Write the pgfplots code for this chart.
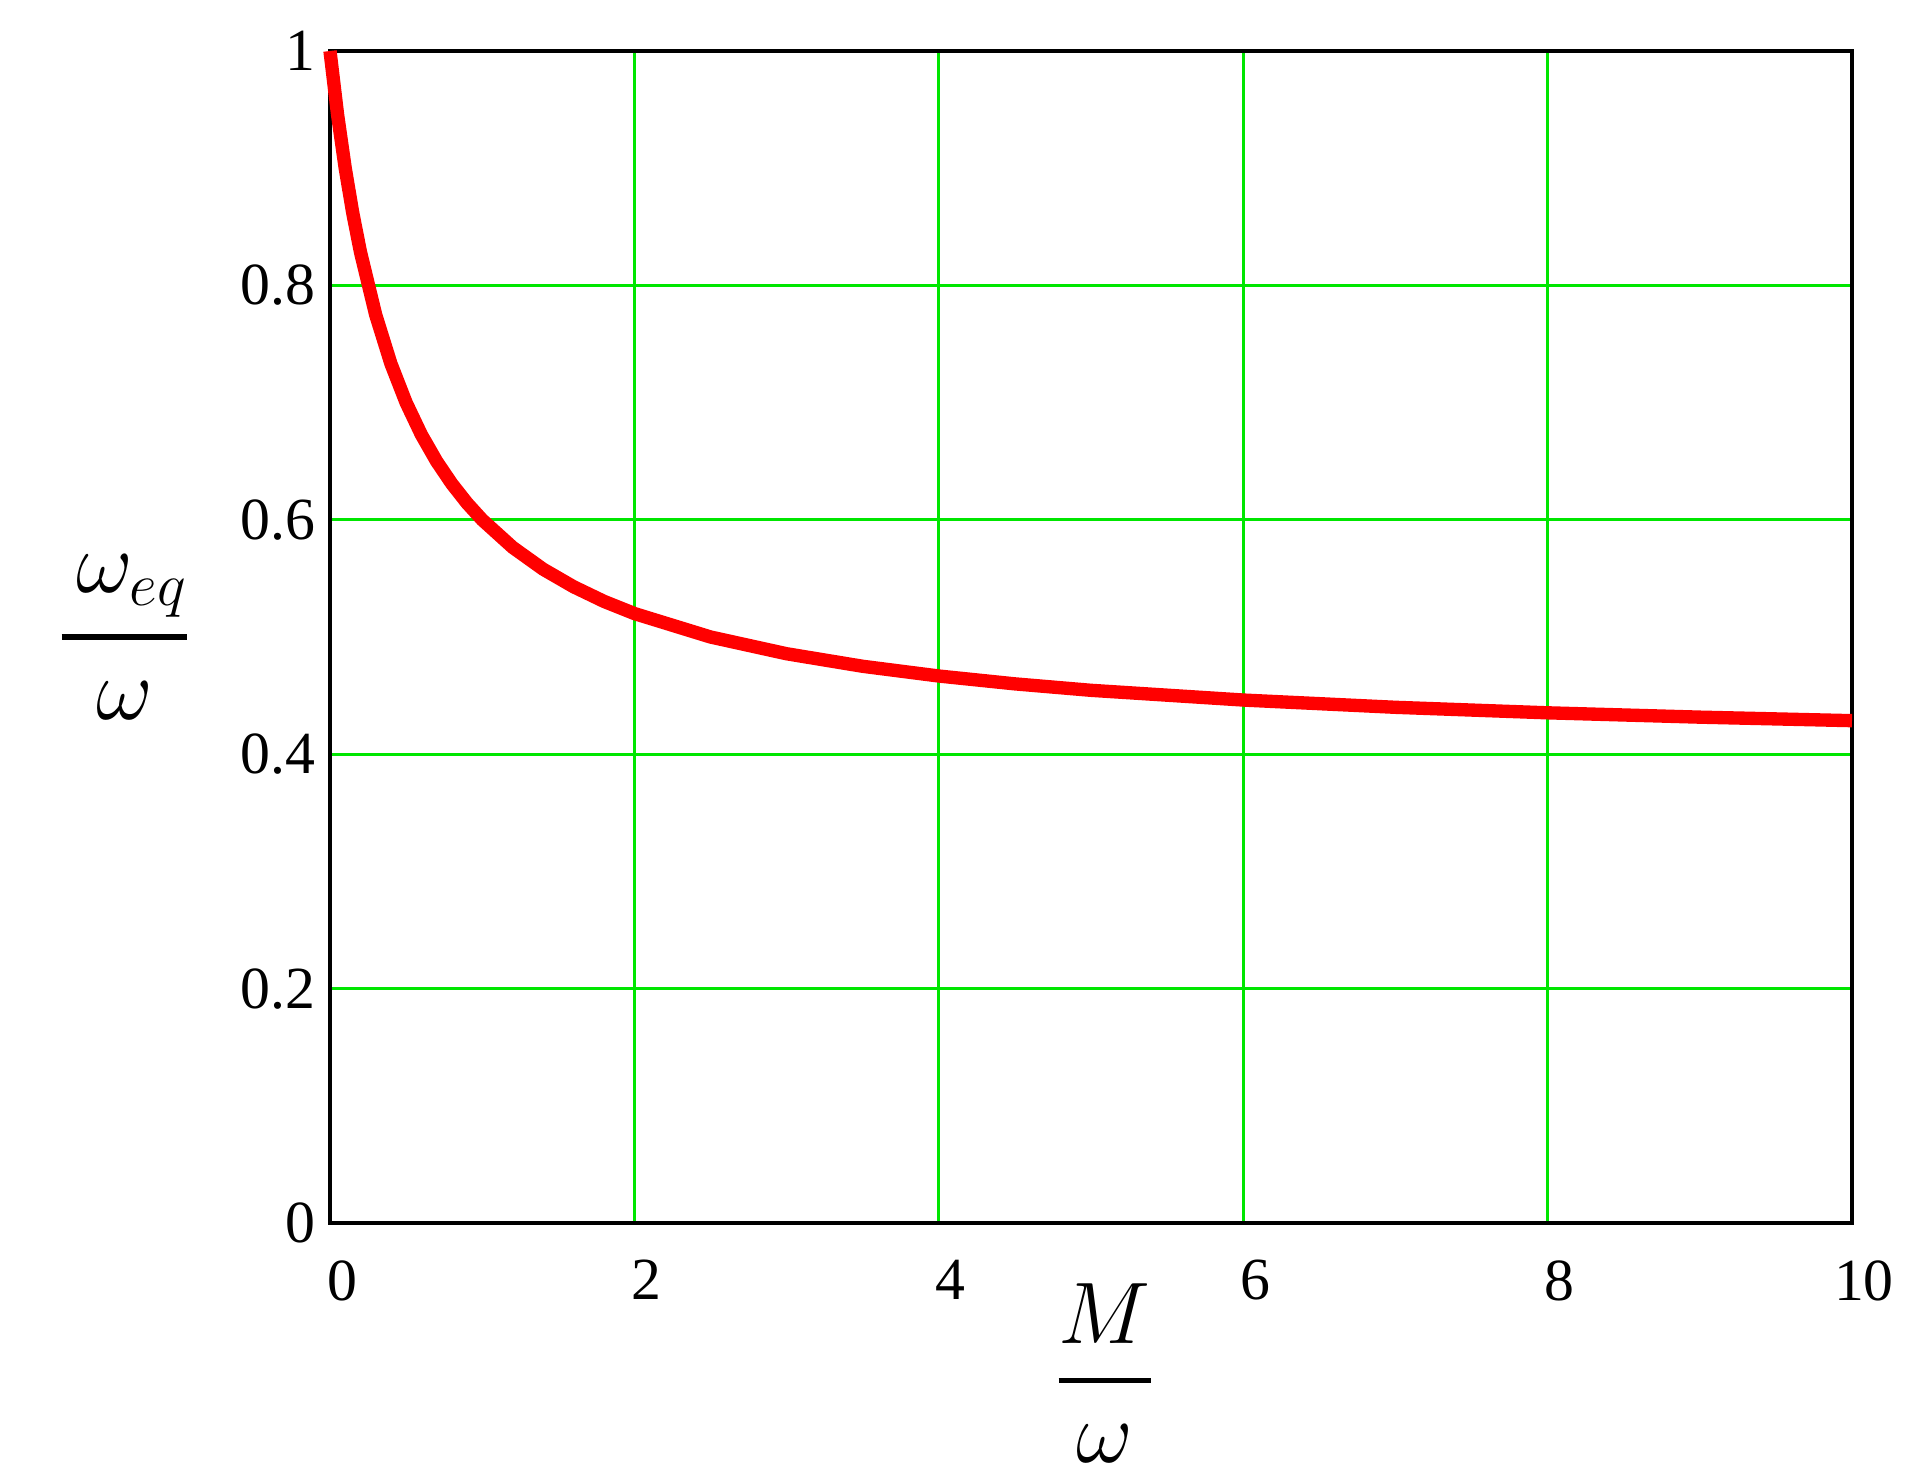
\documentclass[border=0pt]{standalone}
\usepackage{amsmath}
\usepackage{pgfplots}
\pgfplotsset{compat=1.18}
\usepackage{fontspec}
\setmainfont{Liberation Serif}
\definecolor{gridgreen}{RGB}{0,230,0}
\begin{document}
\begin{tikzpicture}
\useasboundingbox (-3.30,-2.58) rectangle (15.88,12.23);
\begin{axis}[
  at={(0,0)}, anchor=south west,
  scale only axis, width=15.22cm, height=11.72cm,
  xmin=0, xmax=10, ymin=0, ymax=1,
  xtick={0,2,4,6,8,10}, ytick={0,0.2,0.4,0.6,0.8,1},
  yticklabels={0,0.2,0.4,0.6,0.8,1},
  grid=major,
  major grid style={gridgreen, line width=0.8pt},
  major tick length=0pt,
  axis line style={black, line width=1.1pt},
  tick label style={font=\fontsize{17}{20}\selectfont},
  /pgf/number format/assume math mode=true,
  xticklabel style={yshift=-0.25cm, xshift=0.12cm},
  yticklabel style={xshift=-0.02cm},
  xlabel={$\genfrac{}{}{1.6pt}{0}{M}{\omega}$},
  ylabel={$\genfrac{}{}{1.6pt}{0}{\,\omega_{eq}}{\omega}$},
  xlabel style={at={(axis description cs:0.509,-0.128)}, anchor=center, font=\fontsize{23}{27}\selectfont},
  ylabel style={at={(axis description cs:-0.135,0.50)}, rotate=-90, anchor=center, font=\fontsize{26}{30}\selectfont},
  clip=false,
]
\addplot[red, line width=3.8pt] coordinates {
(0,1.0) (0.05,0.9455) (0.1,0.9) (0.15,0.8615) (0.2,0.8286) (0.3,0.775) (0.4,0.7333)
(0.5,0.7) (0.6,0.6727) (0.7,0.65) (0.8,0.6308) (0.9,0.6143) (1,0.6)
(1.2,0.5765) (1.4,0.5579) (1.6,0.5429) (1.8,0.5304) (2,0.52) (2.5,0.5)
(3,0.4857) (3.5,0.475) (4,0.4667) (4.5,0.46) (5,0.4545) (6,0.4462)
(7,0.44) (8,0.4353) (9,0.4316) (10,0.4286)
};
\end{axis}
\end{tikzpicture}
\end{document}
